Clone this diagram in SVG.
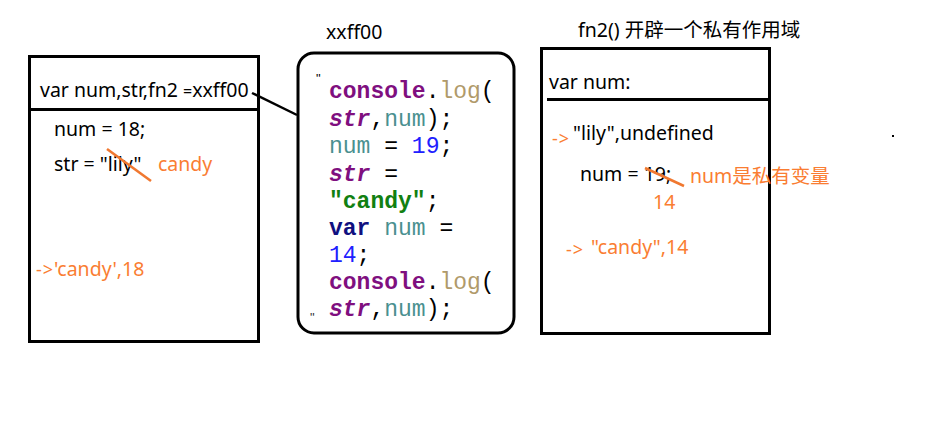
<svg xmlns="http://www.w3.org/2000/svg" width="935" height="427" viewBox="0 0 935 427">
<style>
.box{fill:none;stroke:#000;stroke-width:3}
.t{font-family:"Noto Sans","Liberation Sans",sans-serif;font-size:19.5px;fill:#000}
.o{fill:#fa7d32}
.cjk{font-family:"Noto Sans","Noto Sans CJK SC",sans-serif}
.strike{stroke:#f07830;stroke-width:2.5}
.arr{font-size:18px;letter-spacing:1px}
.code{font-family:"Liberation Mono","Courier New",monospace;font-size:23px}
.kw{fill:#7f0f7f;font-weight:bold}
.it{fill:#7f0f7f;font-weight:bold;font-style:italic}
.fn{fill:#b09a6a}
.v{fill:#4a9090}
.n{fill:#2020ff}
.s{fill:#118011;font-weight:bold}
.var{fill:#101080;font-weight:bold}
.p{fill:#000}
</style>
<rect width="935" height="427" fill="#fff"/>
<g id="global-scope">
<rect class="box" x="29.5" y="56.5" width="229" height="285"/>
<line x1="29" y1="109.5" x2="259" y2="109.5" stroke="#000" stroke-width="3"/>
<text class="t" x="40" y="97">var num,str,fn2 <tspan font-size="16">=</tspan>xxff00</text>
<text class="t" x="54" y="136">num = 18;</text>
<text class="t" x="54" y="171">str = "lily"</text>
<line class="strike" x1="107" y1="149" x2="151" y2="181"/>
<text class="t o" x="158" y="171">candy</text>
<text class="t o" x="36" y="276"><tspan class="arr">-&gt;</tspan>'candy',18</text>
</g>
<g id="connectors">
<line x1="252" y1="93" x2="297" y2="115" stroke="#000" stroke-width="2.5"/>
</g>
<g id="function-body">
<text class="t" x="326" y="39">xxff00</text>
<rect class="box" x="298" y="53" width="216" height="280" rx="16"/>
<text x="316" y="83" font-family="Liberation Sans,sans-serif" font-size="13" fill="#000">"</text>
<text x="310" y="322" font-family="Liberation Sans,sans-serif" font-size="13" fill="#333">"</text>
<g class="code">
<text x="329" y="98"><tspan class="kw">console</tspan><tspan class="p">.</tspan><tspan class="fn">log</tspan><tspan class="p">(</tspan></text>
<text x="329" y="126"><tspan class="it">str</tspan><tspan class="p">,</tspan><tspan class="v">num</tspan><tspan class="p">);</tspan></text>
<text x="329" y="153"><tspan class="v">num</tspan><tspan class="p"> = </tspan><tspan class="n">19</tspan><tspan class="p">;</tspan></text>
<text x="329" y="181"><tspan class="it">str</tspan><tspan class="p"> =</tspan></text>
<text x="329" y="208"><tspan class="s">"candy"</tspan><tspan class="p">;</tspan></text>
<text x="329" y="235"><tspan class="var">var</tspan><tspan class="v"> num</tspan><tspan class="p"> =</tspan></text>
<text x="329" y="262"><tspan class="n">14</tspan><tspan class="p">;</tspan></text>
<text x="329" y="289"><tspan class="kw">console</tspan><tspan class="p">.</tspan><tspan class="fn">log</tspan><tspan class="p">(</tspan></text>
<text x="329" y="316"><tspan class="it">str</tspan><tspan class="p">,</tspan><tspan class="v">num</tspan><tspan class="p">);</tspan></text>
</g>
</g>
<g id="private-scope">
<text class="t cjk" x="578" y="37" font-size="19">fn2() 开辟一个私有作用域</text>
<rect class="box" x="541.5" y="48.5" width="228" height="285"/>
<line x1="547" y1="99.5" x2="770" y2="99.5" stroke="#000" stroke-width="3"/>
<text class="t" x="549" y="89">var num:</text>
<text class="t o arr" x="552" y="145">-&gt;</text>
<text class="t" x="573" y="140">"lily",undefined</text>
<text class="t" x="580" y="181">num = 19;</text>
<line class="strike" x1="645" y1="168" x2="684" y2="186"/>
<text class="t o cjk" x="690" y="183">num是私有变量</text>
<text class="t o" x="653" y="209">14</text>
<text class="t o arr" x="566" y="256">-&gt;</text>
<text class="t o" x="591" y="254">"candy",14</text>
</g>
<rect x="892" y="135" width="2" height="2" fill="#000"/>
</svg>
